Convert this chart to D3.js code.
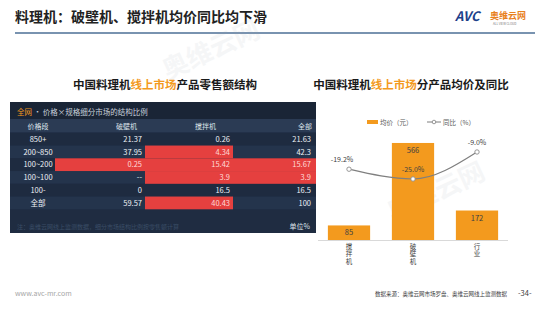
<!DOCTYPE html>
<html>
<head>
<meta charset="utf-8">
<script src="https://cdn.jsdelivr.net/npm/d3@7"></script>
<style>
  body { margin: 0; background: #fff; }
  svg { display: block; font-family: "Noto Sans CJK SC", "Noto Sans", sans-serif; }
</style>
</head>
<body>
<div class="chart"></div>
<script>
// ---- data ----
let priceBands = ["850+", "200~850", "100~200", "100~100", "100-", "全部"];
let tableHeaders = ["价格段", "破壁机", "搅拌机", "全部"];
let poBiShare = ["21.37", "37.95", "0.25", "--", "0", "59.57"];
let jiaoBanShare = ["0.26", "4.34", "15.42", "3.9", "16.5", "40.43"];
let allShare = ["21.63", "42.3", "15.67", "3.9", "16.5", "100"];
// highlighted cells [row, col]
let redCells = [[1, 2], [2, 1], [2, 2], [2, 3], [3, 2], [3, 3], [5, 2]];

let products = ["搅拌机", "破壁机", "行业"];
let avgPrice = [85, 566, 172];
let yoy = [-19.2, -25.0, -9.0];

// ---- drawing ----
let width = 550, height = 309;
let orange = "#f39a1e";

let svg = d3.select(".chart").append("svg")
    .attr("width", width)
    .attr("height", height);

// page title + rule
svg.append("text")
    .attr("x", 15).attr("y", 22)
    .style("font-size", "14px").style("font-weight", "bold").style("fill", "#222")
    .text("料理机：破壁机、搅拌机均价同比均下滑");
svg.append("line")
    .attr("x1", 15).attr("x2", 535).attr("y1", 33).attr("y2", 33)
    .style("stroke", "#4d6f96").style("stroke-width", 1.5);

// logo
let logo = svg.append("g").attr("transform", "translate(455,21)");
logo.append("text").attr("x", 0).attr("y", 0)
    .style("font-size", "13px").style("font-weight", "bold").style("font-style", "italic")
    .style("fill", "#1d3f8a").text("AVC");
logo.append("text").attr("x", 35).attr("y", -2)
    .style("font-size", "9px").style("font-weight", "bold").style("fill", "#e8821e").text("奥维云网");
logo.append("text").attr("x", 38).attr("y", 4)
    .style("font-size", "3px").style("fill", "#777").text("ALL VIEW CLOUD");

// faint watermarks
[[215, 58], [440, 200]].forEach(function (p) {
    svg.append("text")
        .attr("transform", `translate(${p[0]},${p[1]}) rotate(-25)`)
        .style("font-size", "26px").style("font-weight", "bold")
        .style("fill", "#9aa3ad").style("opacity", 0.09)
        .attr("text-anchor", "middle")
        .text("奥维云网");
});

// section titles
function sectionTitle(cx, parts) {
    let t = svg.append("text")
        .attr("x", cx).attr("y", 89)
        .attr("text-anchor", "middle")
        .style("font-size", "11.5px").style("font-weight", "bold");
    parts.forEach(function (p) {
        t.append("tspan").style("fill", p[1] ? orange : "#1a1a1a").text(p[0]);
    });
}
sectionTitle(165, [["中国料理机", 0], ["线上市场", 1], ["产品零售额结构", 0]]);
sectionTitle(411, [["中国料理机", 0], ["线上市场", 1], ["分产品均价及同比", 0]]);

// ---- table ----
let table = svg.append("g");
let colEdges = [10, 55, 145, 233, 316];
let textRight = [0, 142, 230, 311];

table.append("rect")
    .attr("x", 10).attr("y", 102).attr("width", 306).attr("height", 131)
    .style("fill", "#1f2c41");
table.append("rect")
    .attr("x", 10).attr("y", 102).attr("width", 306).attr("height", 17)
    .style("fill", "#1a2536");
table.append("rect")
    .attr("x", 10).attr("y", 119).attr("width", 306).attr("height", 13.5)
    .style("fill", "#2b3b54");

let titleRow = table.append("text")
    .attr("x", 17).attr("y", 114.5)
    .style("font-size", "7.5px");
titleRow.append("tspan").style("fill", orange).text("全网");
titleRow.append("tspan").style("fill", "#c9d1dc").text(" • 价格×规格细分市场的结构比例");

let rowY = d3.scaleBand()
    .domain(priceBands)
    .range([132.8, 132.8 + 6 * 12.75]);

// row stripes
table.selectAll(".stripe")
    .data(priceBands)
    .enter()
    .append("rect")
    .attr("class", "stripe")
    .attr("x", 10).attr("width", 306)
    .attr("y", d => rowY(d))
    .attr("height", rowY.bandwidth())
    .style("fill", (d, i) => i % 2 === 0 ? "#1e2b40" : "#24344c");

// red cells
table.selectAll(".red")
    .data(redCells)
    .enter()
    .append("rect")
    .attr("class", "red")
    .attr("x", d => colEdges[d[1]])
    .attr("width", d => colEdges[d[1] + 1] - colEdges[d[1]])
    .attr("y", d => rowY(priceBands[d[0]]))
    .attr("height", rowY.bandwidth())
    .style("fill", "#e5403f");

// headers
let headerX = [38, 137, 216, 312];
table.selectAll(".hdr")
    .data(tableHeaders)
    .enter()
    .append("text")
    .attr("class", "hdr")
    .attr("x", (d, i) => headerX[i])
    .attr("y", 128.5)
    .attr("text-anchor", (d, i) => i === 0 ? "middle" : "end")
    .style("font-size", "7px").style("fill", "#dde3ea")
    .text(d => d);

// body cells
let columns = [priceBands, poBiShare, jiaoBanShare, allShare];
columns.forEach(function (col, c) {
    table.selectAll(".c" + c)
        .data(col)
        .enter()
        .append("text")
        .attr("class", "c" + c)
        .attr("x", c === 0 ? 38 : textRight[c])
        .attr("y", (d, i) => rowY(priceBands[i]) + rowY.bandwidth() / 2 + 2.6)
        .attr("text-anchor", c === 0 ? "middle" : "end")
        .style("font-size", "7.5px")
        .style("fill", function (d, i) {
            let isRed = redCells.some(r => r[0] === i && r[1] === c);
            return isRed ? "#ffd9d6" : "#eef1f5";
        })
        .text(d => d);
});

table.append("text")
    .attr("x", 17).attr("y", 228.5)
    .style("font-size", "6px").style("fill", "#3a4c66")
    .text("注：奥维云网线上监测数据，细分市场结构比例按零售额计算");
table.append("text")
    .attr("x", 310).attr("y", 228.5)
    .attr("text-anchor", "end")
    .style("font-size", "7px").style("fill", "#dde3ea")
    .text("单位%");

// ---- bar + line chart ----
let x = d3.scaleBand()
    .domain(products)
    .range([317, 509])
    .paddingInner(0.34)
    .paddingOuter(0.17);

let yBar = d3.scaleLinear()
    .domain([0, 700])
    .range([240, 120]);

let yLine = d3.scaleLinear()
    .domain([-40, 0])
    .range([204.3, 136.8]);

let chart = svg.append("g");

// legend
chart.append("rect")
    .attr("x", 367).attr("y", 120).attr("width", 11).attr("height", 4)
    .style("fill", orange);
chart.append("text")
    .attr("x", 380).attr("y", 124.5)
    .style("font-size", "6.5px").style("fill", "#595959")
    .text("均价（元）");
chart.append("line")
    .attr("x1", 427).attr("x2", 441).attr("y1", 122).attr("y2", 122)
    .style("stroke", "#7f7f7f").style("stroke-width", 1);
chart.append("circle")
    .attr("cx", 434).attr("cy", 122).attr("r", 1.8)
    .style("fill", "#fff").style("stroke", "#7f7f7f").style("stroke-width", 0.8);
chart.append("text")
    .attr("x", 443).attr("y", 124.5)
    .style("font-size", "6.5px").style("fill", "#595959")
    .text("同比（%）");

// bars
chart.selectAll(".bar")
    .data(products)
    .enter()
    .append("rect")
    .attr("class", "bar")
    .attr("x", d => x(d))
    .attr("width", x.bandwidth())
    .attr("y", (d, i) => yBar(avgPrice[i]))
    .attr("height", (d, i) => yBar(0) - yBar(avgPrice[i]))
    .style("fill", orange);

chart.selectAll(".barLabel")
    .data(products)
    .enter()
    .append("text")
    .attr("class", "barLabel")
    .attr("x", d => x(d) + x.bandwidth() / 2)
    .attr("y", (d, i) => yBar(avgPrice[i]) + 10)
    .attr("text-anchor", "middle")
    .style("font-size", "7.5px").style("fill", "#404040")
    .text((d, i) => avgPrice[i]);

// baseline
chart.append("line")
    .attr("x1", 318).attr("x2", 508)
    .attr("y1", yBar(0) + 0.5).attr("y2", yBar(0) + 0.5)
    .style("stroke", "#d9d9d9").style("stroke-width", 1);

// vertical category labels (top-to-bottom writing)
chart.selectAll(".xLabel")
    .data(products)
    .enter()
    .append("text")
    .attr("class", "xLabel")
    .attr("x", d => x(d) + x.bandwidth() / 2)
    .attr("y", 243)
    .style("writing-mode", "vertical-rl")
    .style("text-orientation", "upright")
    .style("font-size", "6.5px").style("letter-spacing", "1px")
    .style("fill", "#404040")
    .text(d => d);

// yoy line
let line = d3.line()
    .x((d, i) => x(products[i]) + x.bandwidth() / 2)
    .y(d => yLine(d))
    .curve(d3.curveMonotoneX);

chart.append("path")
    .datum(yoy)
    .attr("d", line)
    .style("fill", "none")
    .style("stroke", "#7f7f7f")
    .style("stroke-width", 1.2);

chart.selectAll(".pt")
    .data(yoy)
    .enter()
    .append("circle")
    .attr("class", "pt")
    .attr("cx", (d, i) => x(products[i]) + x.bandwidth() / 2)
    .attr("cy", d => yLine(d))
    .attr("r", 2.2)
    .style("fill", "#fff")
    .style("stroke", "#8c8c8c")
    .style("stroke-width", 0.9);

let labelDx = [-7, 0, 0];
chart.selectAll(".yoyLabel")
    .data(yoy)
    .enter()
    .append("text")
    .attr("class", "yoyLabel")
    .attr("x", (d, i) => x(products[i]) + x.bandwidth() / 2 + labelDx[i])
    .attr("y", d => yLine(d) - 7)
    .attr("text-anchor", "middle")
    .style("font-size", "7px").style("fill", "#404040")
    .text(d => d.toFixed(1) + "%");

// ---- footer ----
svg.append("text")
    .attr("x", 15).attr("y", 296)
    .style("font-size", "7px").style("fill", "#a6a6a6")
    .text("www.avc-mr.com");
svg.append("text")
    .attr("x", 507).attr("y", 295.5)
    .attr("text-anchor", "end")
    .style("font-size", "5.5px").style("fill", "#404040")
    .text("数据来源：奥维云网市场罗盘、奥维云网线上监测数据");
svg.append("text")
    .attr("x", 518).attr("y", 296)
    .style("font-size", "7.5px").style("fill", "#404040")
    .text("-34-");
</script>
</body>
</html>
